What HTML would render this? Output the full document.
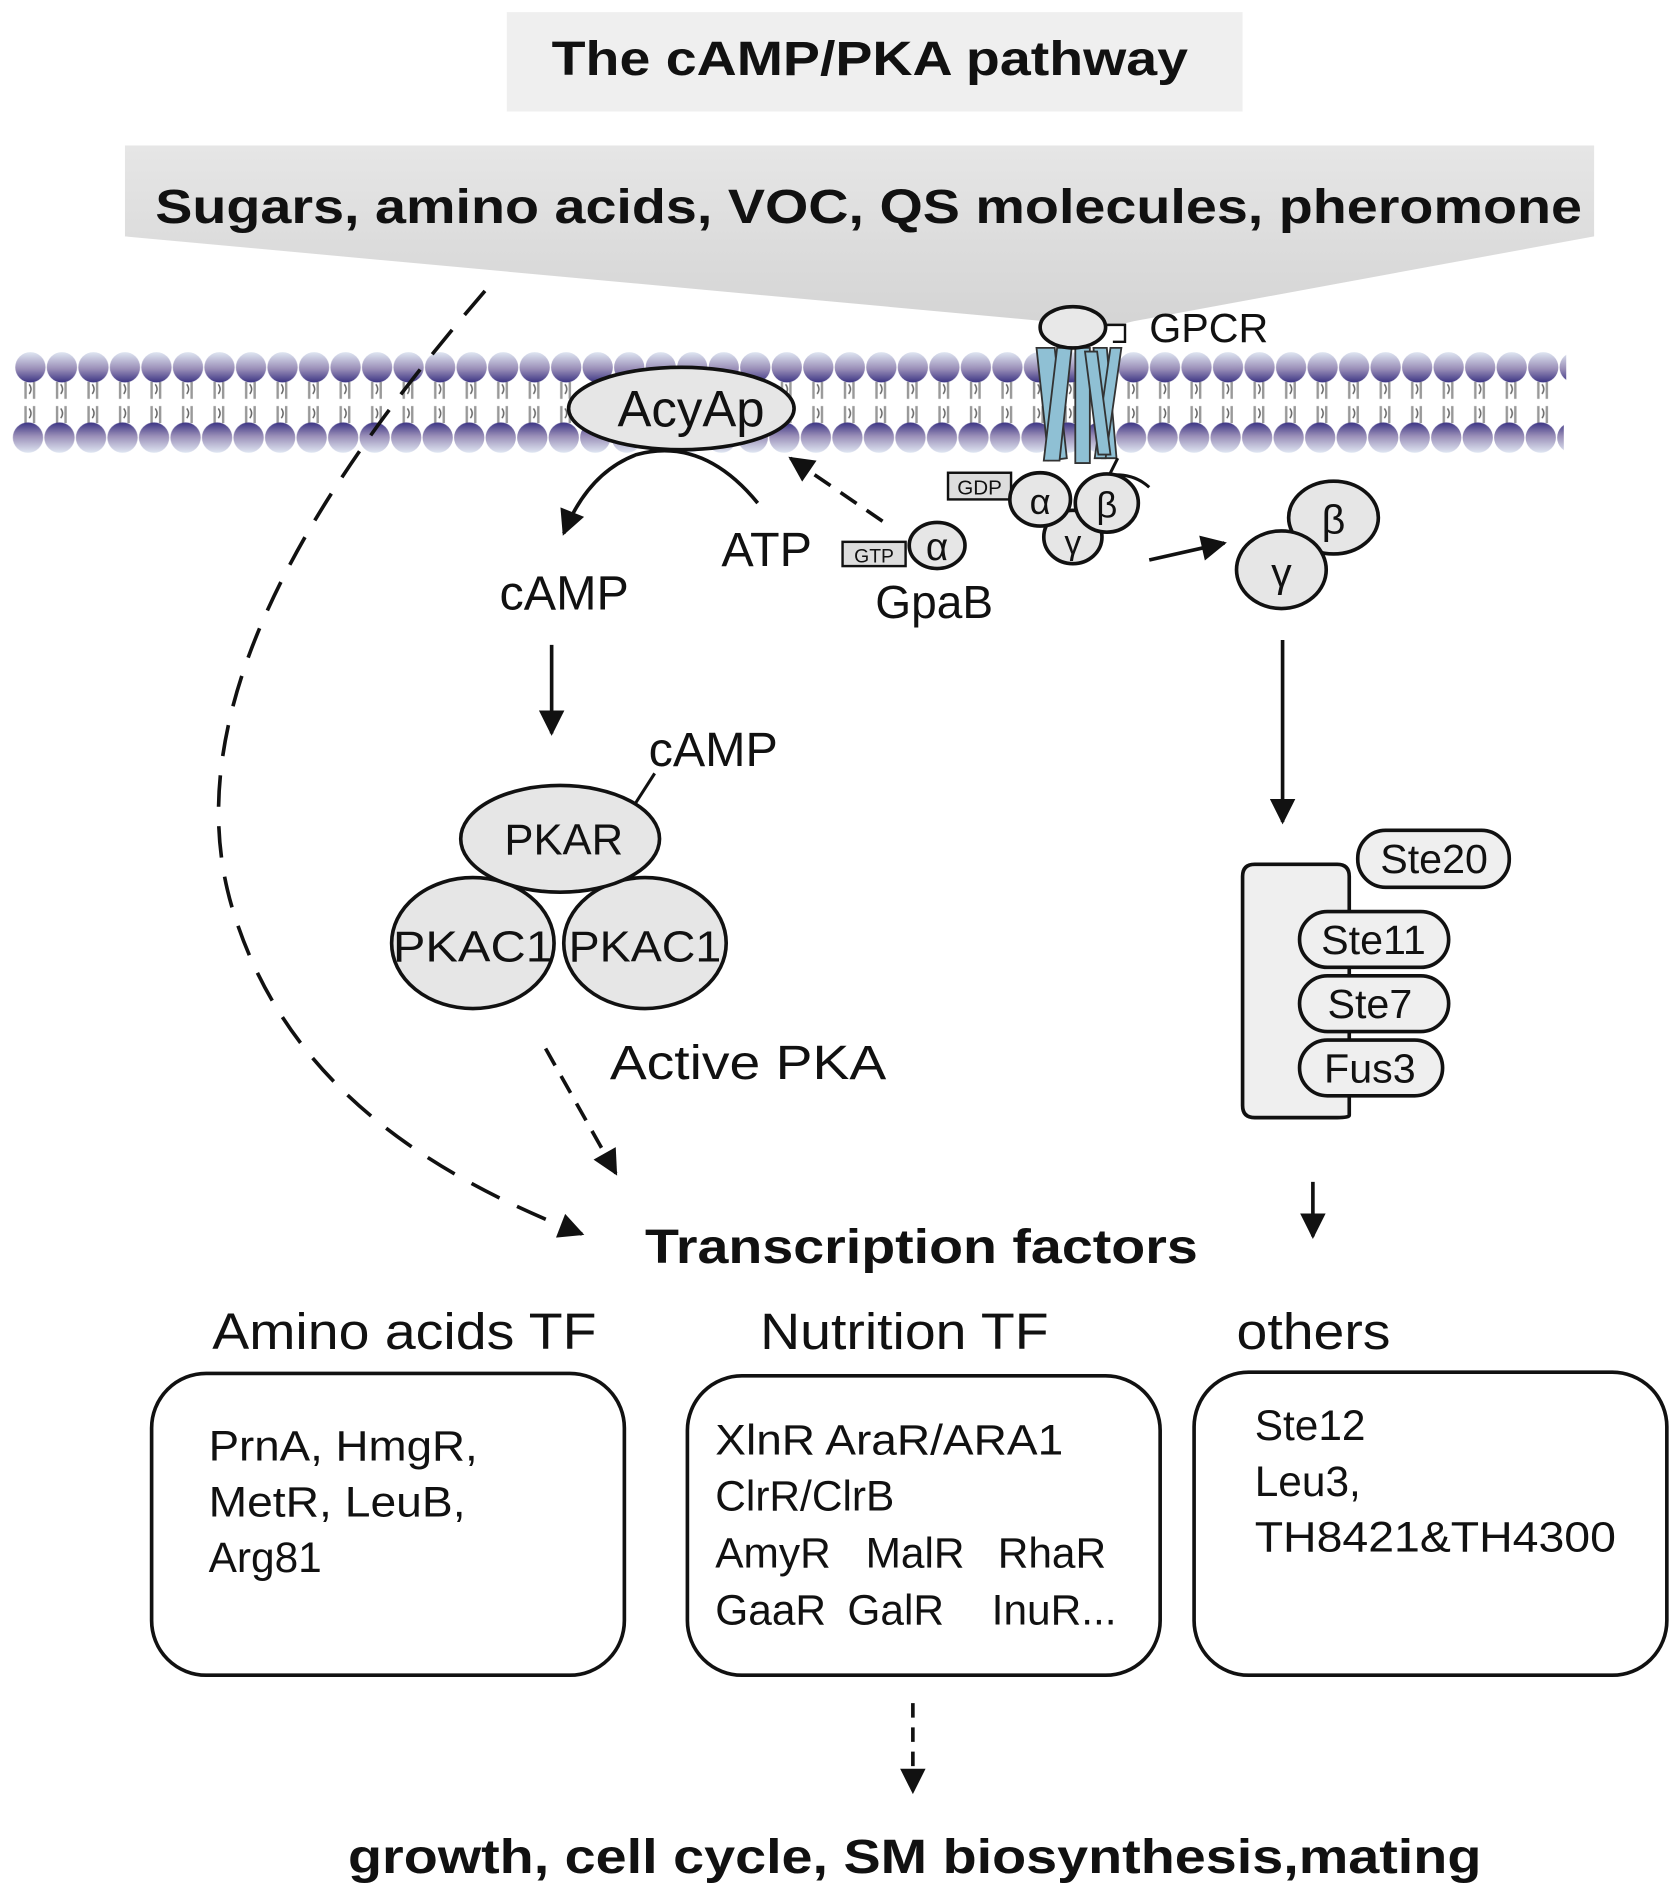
<!DOCTYPE html>
<html><head><meta charset="utf-8">
<style>
html,body{margin:0;padding:0;background:#fff;}
svg{display:block;}
text{font-family:"Liberation Sans",Arial,sans-serif;fill:#111;}
</style></head>
<body>
<svg width="1673" height="1891" viewBox="0 0 1380 1560" xmlns="http://www.w3.org/2000/svg">
<defs>
  <linearGradient id="funnel" x1="0" y1="0" x2="0" y2="1">
    <stop offset="0" stop-color="#e6e6e6"/><stop offset="1" stop-color="#d4d4d4"/>
  </linearGradient>
  <linearGradient id="headU" x1="0" y1="0" x2="0" y2="1">
    <stop offset="0" stop-color="#dfe6f2"/><stop offset="0.55" stop-color="#9a8fb8"/><stop offset="1" stop-color="#3c3584"/>
  </linearGradient>
  <linearGradient id="headL" x1="0" y1="0" x2="0" y2="1">
    <stop offset="0" stop-color="#3c3584"/><stop offset="0.45" stop-color="#9a8fb8"/><stop offset="1" stop-color="#dfe6f2"/>
  </linearGradient>
  <pattern id="up" x="12" y="290" width="26" height="26" patternUnits="userSpaceOnUse">
    <circle cx="13" cy="13" r="12.5" fill="url(#headU)"/>
  </pattern>
  <pattern id="lo" x="10" y="348" width="26" height="26" patternUnits="userSpaceOnUse">
    <circle cx="13" cy="13" r="12.5" fill="url(#headL)"/>
  </pattern>
  <pattern id="tails" x="12" y="315" width="26" height="34" patternUnits="userSpaceOnUse">
    <path d="M9 0 V14 M16 0 V14 M9 20 V34 M16 20 V34" stroke="#999" stroke-width="2"/>
    <path d="M12 2 q3 4 0 8 M12 22 q3 4 0 8" stroke="#666" stroke-width="1.2" fill="none"/>
  </pattern>
  <marker id="ahb" viewBox="0 0 10 10" refX="9" refY="5" markerWidth="9" markerHeight="7" orient="auto">
    <path d="M0 0 L10 5 L0 10 z" fill="#111"/>
  </marker>
</defs>

<!-- title -->
<rect x="418" y="10" width="607" height="82" fill="#efefef"/>
<text x="455" y="62" font-size="40" font-weight="bold" textLength="525" lengthAdjust="spacingAndGlyphs">The cAMP/PKA pathway</text>

<!-- funnel -->
<path d="M103 120 H1315 V195 L935 265 Q900 275 862 265 L103 195 Z" fill="url(#funnel)"/>
<text x="128" y="184" font-size="40" font-weight="bold" textLength="1177" lengthAdjust="spacingAndGlyphs">Sugars, amino acids, VOC, QS molecules, pheromone</text>

<!-- membrane -->
<rect x="12" y="315" width="1278" height="34" fill="url(#tails)"/>
<rect x="12" y="290" width="1280" height="26" fill="url(#up)"/>
<rect x="10" y="348" width="1280" height="26" fill="url(#lo)"/>

<!-- big dashed curve -->
<path d="M400 240 C245 420 140 600 195 760 C235 880 330 960 480 1018" fill="none" stroke="#111" stroke-width="3" stroke-dasharray="26 16" marker-end="url(#ahb)"/>

<!-- AcyAp -->
<ellipse cx="562" cy="337" rx="93" ry="34" fill="#e6e6e6" stroke="#111" stroke-width="3"/>
<text x="570" y="352" font-size="42" text-anchor="middle">AcyAp</text>
<path d="M625 415 Q580 360 525 375 Q485 390 465 440" fill="none" stroke="#111" stroke-width="3" marker-end="url(#ahb)"/>
<text x="595" y="467" font-size="40">ATP</text>
<rect x="695" y="447" width="52" height="20" fill="#ddd" stroke="#111" stroke-width="2"/>
<text x="721" y="464" font-size="16" text-anchor="middle">GTP</text>
<ellipse cx="773" cy="450" rx="23" ry="19" fill="#e6e6e6" stroke="#111" stroke-width="3"/>
<text x="773" y="462" font-size="32" text-anchor="middle">α</text>
<text x="722" y="510" font-size="38">GpaB</text>
<path d="M728 430 L652 378" fill="none" stroke="#111" stroke-width="3" stroke-dasharray="16 10" marker-end="url(#ahb)"/>

<!-- GPCR -->
<g fill="#8fc0d4" stroke="#333" stroke-width="1.5">
  <path d="M855 287 L870 287 L880 378 L865 380 Z"/>
  <path d="M872 287 L884 287 L874 380 L861 380 Z"/>
  <path d="M887 287 L899 287 L899 382 L887 382 Z"/>
  <path d="M902 287 L913 287 L921 378 L909 378 Z"/>
  <path d="M916 287 L925 287 L912 378 L903 378 Z"/>
  <path d="M895 290 L905 290 L916 375 L906 375 Z"/>
</g>
<ellipse cx="885" cy="270" rx="27" ry="17" fill="#e8e8e8" stroke="#111" stroke-width="3"/>
<path d="M912 268 H928 V282 H918" fill="none" stroke="#111" stroke-width="2"/>
<text x="948" y="282" font-size="34">GPCR</text>
<path d="M922 378 L915 392 Q935 390 948 402" fill="none" stroke="#111" stroke-width="2.5"/>

<!-- heterotrimer -->
<rect x="782" y="390" width="52" height="22" fill="#ddd" stroke="#111" stroke-width="2"/>
<text x="808" y="408" font-size="17" text-anchor="middle">GDP</text>
<ellipse cx="885" cy="443" rx="24" ry="22" fill="#e6e6e6" stroke="#111" stroke-width="3"/>
<text x="885" y="457" font-size="28" text-anchor="middle">γ</text>
<ellipse cx="858" cy="412" rx="25" ry="22" fill="#e6e6e6" stroke="#111" stroke-width="3"/>
<text x="858" y="424" font-size="30" text-anchor="middle">α</text>
<ellipse cx="913" cy="415" rx="26" ry="24" fill="#e6e6e6" stroke="#111" stroke-width="3"/>
<text x="913" y="427" font-size="30" text-anchor="middle">β</text>
<path d="M948 462 L1010 448" fill="none" stroke="#111" stroke-width="3" marker-end="url(#ahb)"/>

<!-- free beta gamma -->
<ellipse cx="1100" cy="427" rx="37" ry="30" fill="#e6e6e6" stroke="#111" stroke-width="3"/>
<text x="1100" y="440" font-size="34" text-anchor="middle">β</text>
<ellipse cx="1057" cy="470" rx="37" ry="32" fill="#e6e6e6" stroke="#111" stroke-width="3"/>
<text x="1057" y="484" font-size="34" text-anchor="middle">γ</text>

<!-- cAMP and PKA -->
<text x="412" y="503" font-size="40">cAMP</text>
<path d="M455 532 V605" stroke="#111" stroke-width="3" marker-end="url(#ahb)"/>
<text x="535" y="632" font-size="40">cAMP</text>
<path d="M540 638 L522 666" stroke="#111" stroke-width="2.5"/>
<ellipse cx="390" cy="778" rx="67" ry="54" fill="#e6e6e6" stroke="#111" stroke-width="3"/>
<ellipse cx="532" cy="778" rx="67" ry="54" fill="#e6e6e6" stroke="#111" stroke-width="3"/>
<ellipse cx="462" cy="692" rx="82" ry="44" fill="#e6e6e6" stroke="#111" stroke-width="3"/>
<text x="465" y="705" font-size="36" text-anchor="middle">PKAR</text>
<text x="390" y="793" font-size="36" text-anchor="middle" textLength="132" lengthAdjust="spacingAndGlyphs">PKAC1</text>
<text x="532" y="793" font-size="36" text-anchor="middle" textLength="126" lengthAdjust="spacingAndGlyphs">PKAC1</text>
<text x="503" y="890" font-size="40" textLength="228" lengthAdjust="spacingAndGlyphs">Active PKA</text>
<path d="M450 865 L508 968" fill="none" stroke="#111" stroke-width="3" stroke-dasharray="16 10" marker-end="url(#ahb)"/>

<!-- MAPK -->
<path d="M1058 528 V678" stroke="#111" stroke-width="3" marker-end="url(#ahb)"/>
<path d="M1035 713 H1103 Q1113 713 1113 723 V920 Q1113 922 1103 922 H1035 Q1025 922 1025 912 V723 Q1025 713 1035 713 Z" fill="#efefef" stroke="#111" stroke-width="3"/>
<rect x="1120" y="685" width="125" height="47" rx="23" fill="#efefef" stroke="#111" stroke-width="3"/>
<text x="1183" y="720" font-size="34" text-anchor="middle">Ste20</text>
<rect x="1072" y="752" width="123" height="46" rx="23" fill="#efefef" stroke="#111" stroke-width="3"/>
<text x="1133" y="787" font-size="34" text-anchor="middle">Ste11</text>
<rect x="1072" y="805" width="123" height="46" rx="23" fill="#efefef" stroke="#111" stroke-width="3"/>
<text x="1130" y="840" font-size="34" text-anchor="middle">Ste7</text>
<rect x="1072" y="858" width="118" height="46" rx="23" fill="#efefef" stroke="#111" stroke-width="3"/>
<text x="1130" y="893" font-size="34" text-anchor="middle">Fus3</text>
<path d="M1083 975 V1020" stroke="#111" stroke-width="3" marker-end="url(#ahb)"/>

<!-- TFs -->
<text x="532" y="1042" font-size="40" font-weight="bold" textLength="456" lengthAdjust="spacingAndGlyphs">Transcription factors</text>
<text x="175" y="1113" font-size="42" textLength="317" lengthAdjust="spacingAndGlyphs">Amino acids TF</text>
<text x="627" y="1113" font-size="42" textLength="238" lengthAdjust="spacingAndGlyphs">Nutrition TF</text>
<text x="1020" y="1113" font-size="42" textLength="127" lengthAdjust="spacingAndGlyphs">others</text>
<rect x="125" y="1133" width="390" height="249" rx="45" fill="#fff" stroke="#111" stroke-width="3"/>
<rect x="567" y="1135" width="390" height="247" rx="45" fill="#fff" stroke="#111" stroke-width="3"/>
<rect x="985" y="1132" width="390" height="250" rx="45" fill="#fff" stroke="#111" stroke-width="3"/>
<g font-size="35">
<text x="172" y="1205" textLength="222" lengthAdjust="spacingAndGlyphs">PrnA, HmgR,</text>
<text x="172" y="1251" textLength="212" lengthAdjust="spacingAndGlyphs">MetR, LeuB,</text>
<text x="172" y="1297">Arg81</text>
<text x="590" y="1200" textLength="287" lengthAdjust="spacingAndGlyphs">XlnR AraR/ARA1</text>
<text x="590" y="1246">ClrR/ClrB</text>
<text x="590" y="1293">AmyR</text>
<text x="714" y="1293">MalR</text>
<text x="823" y="1293">RhaR</text>
<text x="590" y="1340">GaaR</text>
<text x="699" y="1340">GalR</text>
<text x="818" y="1340">InuR...</text>
<text x="1035" y="1188">Ste12</text>
<text x="1035" y="1234">Leu3,</text>
<text x="1035" y="1280" textLength="298" lengthAdjust="spacingAndGlyphs">TH8421&amp;TH4300</text>
</g>
<path d="M753 1405 V1478" stroke="#111" stroke-width="3" stroke-dasharray="12 8" marker-end="url(#ahb)"/>
<text x="287" y="1545" font-size="40" font-weight="bold" textLength="935" lengthAdjust="spacingAndGlyphs">growth, cell cycle, SM biosynthesis,mating</text>
</svg>
</body></html>
